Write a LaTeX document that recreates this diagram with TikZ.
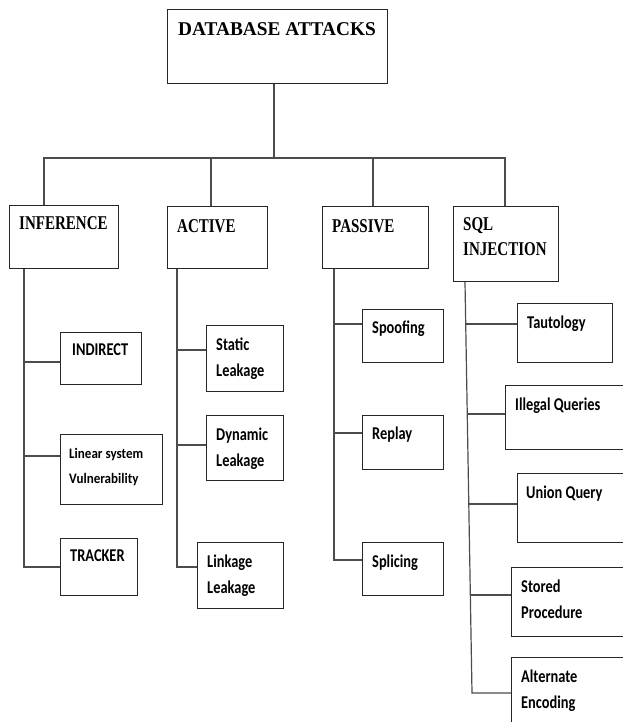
\documentclass[tikz,border=0pt]{standalone}
\usepackage{fontspec}
\newfontfamily\hdfont[FakeStretch=0.77]{Liberation Serif}
\newfontfamily\dbfont[FakeStretch=0.99]{Liberation Serif}
\newfontfamily\chfont[FakeStretch=0.8]{Carlito}
\newfontfamily\lnfont[FakeStretch=0.9]{Carlito}
\newcommand\twolines[2]{\vtop{\hbox{#1}\hbox{#2}}}
\tikzset{
  box/.style={draw=black!85, line width=1.2pt, rectangle, inner sep=0pt, anchor=north west},
  dbtxt/.style={font=\dbfont\bfseries\fontsize{19.5}{25}\selectfont, anchor=base west, inner sep=0pt},
  hdtxt/.style={font=\hdfont\bfseries\fontsize{19.5}{25}\selectfont, anchor=base west, inner sep=0pt},
  chtxt/.style={font=\chfont\bfseries\fontsize{18}{26}\selectfont, anchor=base west, inner sep=0pt},
  lntxt/.style={font=\lnfont\bfseries\fontsize{14.5}{25}\selectfont, anchor=base west, inner sep=0pt},
  wire/.style={draw=black!70, line width=1.2pt}
}
\begin{document}
\begin{tikzpicture}[x=1pt,y=-1pt]
\useasboundingbox (0,0) rectangle (623,722);
\clip (0,0) rectangle (623,722);
% boxes
\node[box, minimum width=220pt, minimum height=74pt] (db) at (167,9) {};
\node[box, minimum width=109pt, minimum height=63pt] (inf) at (9,205) {};
\node[box, minimum width=100pt, minimum height=62pt] (act) at (167,206) {};
\node[box, minimum width=106pt, minimum height=62pt] (pas) at (322,206) {};
\node[box, minimum width=105pt, minimum height=75pt] (sql) at (453,206) {};
\node[box, minimum width=81pt, minimum height=52pt] (indirect) at (60,332) {};
\node[box, minimum width=102pt, minimum height=70pt] (linear) at (60,434) {};
\node[box, minimum width=77pt, minimum height=57pt] (tracker) at (60,538) {};
\node[box, minimum width=77pt, minimum height=66pt] (static) at (206,325) {};
\node[box, minimum width=77pt, minimum height=65pt] (dynamic) at (206,415) {};
\node[box, minimum width=86pt, minimum height=66pt] (linkage) at (197,542) {};
\node[box, minimum width=81pt, minimum height=53pt] (spoof) at (362,309) {};
\node[box, minimum width=81pt, minimum height=54pt] (replay) at (362,415) {};
\node[box, minimum width=81pt, minimum height=53pt] (splicing) at (362,542) {};
\node[box, minimum width=95pt, minimum height=59pt] (taut) at (517,303) {};
\node[box, minimum width=135pt, minimum height=64pt] (illegal) at (505,385) {};
\node[box, minimum width=123pt, minimum height=69pt] (union) at (517,473) {};
\node[box, minimum width=129pt, minimum height=69pt] (stored) at (511,567) {};
\node[box, minimum width=129pt, minimum height=83pt] (alt) at (511,657) {};
% texts
\node[dbtxt] (dbT) at (178,36) {DATABASE ATTACKS};
\node[hdtxt] (infT) at (19,229) {INFERENCE};
\node[hdtxt] (actT) at (177,232) {ACTIVE};
\node[hdtxt] (pasT) at (332,232) {PASSIVE};
\node[hdtxt] (sqlT) at (463,230) {\twolines{SQL}{INJECTION}};
\node[chtxt] (indirectT) at (72,355) {INDIRECT};
\node[lntxt] (linearT) at (69,458) {\twolines{Linear system}{Vulnerability}};
\node[chtxt] (trackerT) at (70,561) {TRACKER};
\node[chtxt] (staticT) at (216,350) {\twolines{Static}{Leakage}};
\node[chtxt] (dynamicT) at (216,440) {\twolines{Dynamic}{Leakage}};
\node[chtxt] (linkageT) at (207,567) {\twolines{Linkage}{Leakage}};
\node[chtxt] (spoofT) at (372,333) {Spoofing};
\node[chtxt] (replayT) at (372,439) {Replay};
\node[chtxt] (splicingT) at (372,567) {Splicing};
\node[chtxt] (tautT) at (527,328) {Tautology};
\node[chtxt] (illegalT) at (515,410) {Illegal Queries};
\node[chtxt] (unionT) at (526,498) {Union Query};
\node[chtxt] (storedT) at (521,592) {\twolines{Stored}{Procedure}};
\node[chtxt] (altT) at (521,682) {\twolines{Alternate}{Encoding}};
% bus
\coordinate (bus) at (274,158);
\draw[wire] (db.south -| bus) -- (bus);
\draw[wire] (inf.north -| 44,0) -- (44,158) -- (505,158) -- (sql.north -| 505,0);
\draw[wire] (211,158) -- (act.north -| 211,0);
\draw[wire] (373,158) -- (pas.north -| 373,0);
% inference
\draw[wire] (inf.south -| 24,0) -- (24,567) -- (tracker.west |- 0,567);
\draw[wire] (24,362) -- (indirect.west |- 0,362);
\draw[wire] (24,456) -- (linear.west |- 0,456);
% active
\draw[wire] (act.south -| 177,0) -- (177,567) -- (linkage.west |- 0,567);
\draw[wire] (177,350) -- (static.west |- 0,350);
\draw[wire] (177,445) -- (dynamic.west |- 0,445);
% passive
\draw[wire] (pas.south -| 334,0) -- (334,560) -- (splicing.west |- 0,560);
\draw[wire] (334,324) -- (spoof.west |- 0,324);
\draw[wire] (334,433) -- (replay.west |- 0,433);
% sql
\coordinate (sqlB) at (472,693);
\draw[wire] (sql.south -| 465,0) -- (sqlB) -- (alt.west |- sqlB);
\draw[wire] (465.7,324) -- (taut.west |- 0,324);
\draw[wire] (467.3,414) -- (illegal.west |- 0,414);
\draw[wire] (468.8,504) -- (union.west |- 0,504);
\draw[wire] (470.3,595) -- (stored.west |- 0,595);
\end{tikzpicture}
\end{document}
